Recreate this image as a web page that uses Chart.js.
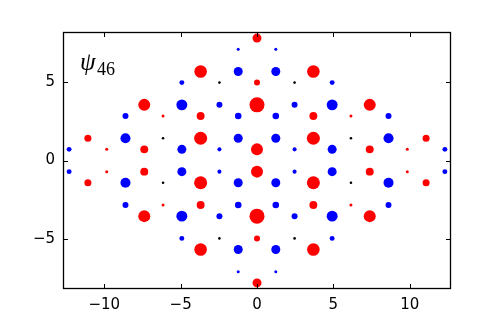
<!DOCTYPE html>
<html>
<head>
<meta charset="utf-8">
<script src="https://cdn.jsdelivr.net/npm/chart.js@4/dist/chart.umd.min.js"></script>
<style>
  html, body { margin: 0; padding: 0; background: #fff; }
  #wrap { width: 500px; height: 322px; }
</style>
</head>
<body>
<div id="wrap"><canvas id="latticeChart" width="500" height="322"></canvas></div>
<script>
// lattice rows (y), site x positions per row and signed amplitude per site
const rowY = [7.81, 7.10, 5.68, 4.97, 3.55, 2.84, 1.42, 0.71,
              -0.71, -1.42, -2.84, -3.55, -4.97, -5.68, -7.10, -7.81];

const rowX = [
    [0],
    [-1.23, 1.23],
    [-3.69, -1.23, 1.23, 3.69],
    [-4.92, -2.46, 0, 2.46, 4.92],
    [-7.38, -4.92, -2.46, 0, 2.46, 4.92, 7.38],
    [-8.61, -6.15, -3.69, -1.23, 1.23, 3.69, 6.15, 8.61],
    [-11.07, -8.61, -6.15, -3.69, -1.23, 1.23, 3.69, 6.15, 8.61, 11.07],
    [-12.3, -9.84, -7.38, -4.92, -2.46, 0, 2.46, 4.92, 7.38, 9.84, 12.3],
    [-12.3, -9.84, -7.38, -4.92, -2.46, 0, 2.46, 4.92, 7.38, 9.84, 12.3],
    [-11.07, -8.61, -6.15, -3.69, -1.23, 1.23, 3.69, 6.15, 8.61, 11.07],
    [-8.61, -6.15, -3.69, -1.23, 1.23, 3.69, 6.15, 8.61],
    [-7.38, -4.92, -2.46, 0, 2.46, 4.92, 7.38],
    [-4.92, -2.46, 0, 2.46, 4.92],
    [-3.69, -1.23, 1.23, 3.69],
    [-1.23, 1.23],
    [0]
];

const rowAmp = [
    [0.6],
    [-0.2, -0.2],
    [0.84, -0.6, -0.6, 0.84],
    [-0.33, 0, 0.4, 0, -0.33],
    [0.8, -0.73, -0.4, 1.0, -0.4, -0.73, 0.8],
    [-0.4, 0.2, 0.53, -0.44, -0.44, 0.53, 0.2, -0.4],
    [0.47, -0.67, 0, 0.87, -0.6, -0.6, 0.87, 0, -0.67, 0.47],
    [-0.33, 0.2, 0.53, -0.6, -0.27, 0.8, -0.27, -0.6, 0.53, 0.2, -0.33],
    [-0.33, 0.2, 0.53, -0.6, -0.27, 0.8, -0.27, -0.6, 0.53, 0.2, -0.33],
    [0.47, -0.67, 0, 0.87, -0.6, -0.6, 0.87, 0, -0.67, 0.47],
    [-0.4, 0.2, 0.53, -0.44, -0.44, 0.53, 0.2, -0.4],
    [0.8, -0.73, -0.4, 1.0, -0.4, -0.73, 0.8],
    [-0.33, 0, 0.4, 0, -0.33],
    [0.84, -0.6, -0.6, 0.84],
    [-0.2, -0.2],
    [0.6]
];

const xTicks = [-10, -5, 0, 5, 10];
const yTicks = [-5, 0, 5];
const stateLabel = '46';

const MAX_RADIUS = 7.5;

function buildPoints() {
    const pts = [];
    rowY.forEach((y, i) => {
        rowX[i].forEach((x, j) => {
            pts.push({ x: x, y: y, amp: rowAmp[i][j] });
        });
    });
    return pts;
}

function pointColor(amp) {
    if (amp > 0) return '#ff0000';
    if (amp < 0) return '#0000ff';
    return '#000000';
}

function pointSize(amp) {
    if (amp === 0) return 1.3;
    return MAX_RADIUS * Math.abs(amp);
}

const minus = v => String(v).replace('-', '\u2212');

// inward ticks on all four sides, frame and the psi label
const framePlugin = {
    id: 'frame',
    afterDraw(chart) {
        const { ctx, chartArea: a, scales } = chart;
        ctx.save();
        ctx.strokeStyle = '#000';
        ctx.lineWidth = 1;
        const len = 5;
        ctx.beginPath();
        xTicks.forEach(v => {
            const px = Math.round(scales.x.getPixelForValue(v)) + 0.5;
            ctx.moveTo(px, a.bottom); ctx.lineTo(px, a.bottom - len);
            ctx.moveTo(px, a.top); ctx.lineTo(px, a.top + len);
        });
        yTicks.forEach(v => {
            const py = Math.round(scales.y.getPixelForValue(v)) + 0.5;
            ctx.moveTo(a.left, py); ctx.lineTo(a.left + len, py);
            ctx.moveTo(a.right, py); ctx.lineTo(a.right - len, py);
        });
        ctx.stroke();
        ctx.lineWidth = 1.3;
        ctx.strokeRect(a.left + 0.5, a.top + 0.5, a.right - a.left - 1, a.bottom - a.top - 1);

        ctx.fillStyle = '#000';
        ctx.textBaseline = 'alphabetic';
        ctx.font = 'italic 25px "Liberation Serif"';
        ctx.fillText('\u03c8', a.left + 17, a.top + 38);
        ctx.font = '18px "Liberation Serif"';
        ctx.fillText(stateLabel, a.left + 34, a.top + 43);
        ctx.restore();
    }
};

document.addEventListener('DOMContentLoaded', () => {
    const ctx = document.getElementById('latticeChart').getContext('2d');
    const points = buildPoints();

    new Chart(ctx, {
        type: 'scatter',
        data: {
            datasets: [{
                data: points,
                pointBackgroundColor: c => pointColor(c.raw.amp),
                pointRadius: c => pointSize(c.raw.amp),
                pointHoverRadius: c => pointSize(c.raw.amp),
                pointBorderWidth: 0,
                showLine: false
            }]
        },
        options: {
            responsive: false,
            animation: false,
            devicePixelRatio: 1,
            layout: { padding: { top: 32, right: 49, left: 0, bottom: 0 } },
            plugins: {
                legend: { display: false },
                tooltip: { enabled: false }
            },
            scales: {
                x: {
                    type: 'linear',
                    min: -12.7,
                    max: 12.7,
                    grid: { display: false, drawTicks: false },
                    border: { display: false },
                    afterBuildTicks: s => { s.ticks = xTicks.map(v => ({ value: v })); },
                    afterFit: s => { s.height = 33; },
                    ticks: {
                        color: '#000',
                        padding: 7,
                        font: { family: 'DejaVu Sans', size: 15 },
                        callback: v => minus(v),
                        maxRotation: 0
                    }
                },
                y: {
                    type: 'linear',
                    min: -8.2,
                    max: 8.2,
                    grid: { display: false, drawTicks: false },
                    border: { display: false },
                    afterBuildTicks: s => { s.ticks = yTicks.map(v => ({ value: v })); },
                    afterFit: s => { s.width = 63; },
                    ticks: {
                        color: '#000',
                        padding: 8,
                        font: { family: 'DejaVu Sans', size: 15 },
                        callback: v => minus(v)
                    }
                }
            }
        },
        plugins: [framePlugin]
    });
});
</script>
</body>
</html>
